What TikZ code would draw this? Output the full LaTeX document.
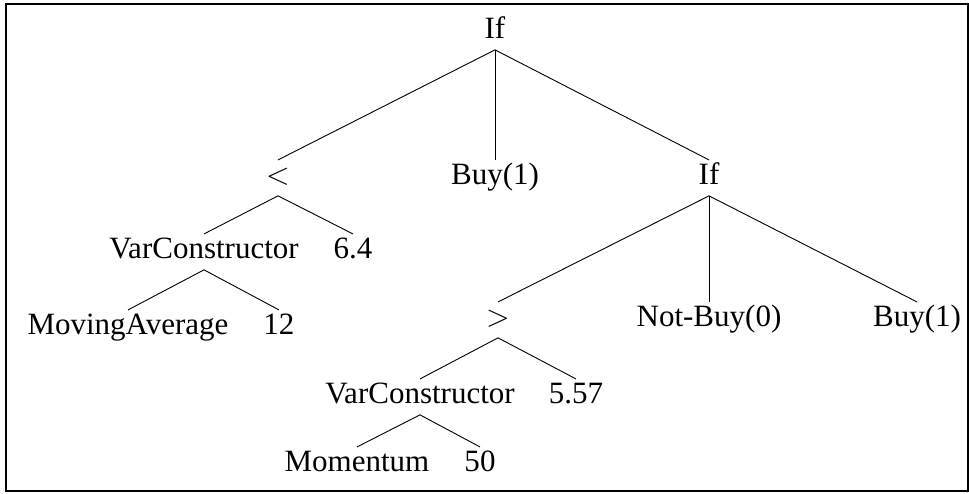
\documentclass[tikz,border=0pt]{standalone}
\usepackage{fontspec}
\setmainfont{Liberation Serif}
\begin{document}
\begin{tikzpicture}[
		x=0.387pt, y=-0.387pt,
		term/.style={
			anchor=base,
			inner sep=2pt,
			text height=0.75em,
			text depth=0.2em,
			font=\fontsize{12}{14}\selectfont
		},
		branch/.style={
			line width=0.35pt,
			black
		}
		]
		\useasboundingbox (0,0) rectangle (969,494);
		\draw[line width=0.5pt] (6,4) rectangle (968,491);
		% Nodes
		\node[term] (root) at (495,39) {If};
		\node[term] (lt) at (278,185) {$<$};
		\node[term] (buya) at (495,185) {Buy(1)};
		\node[term] (ifb) at (709,185) {If};
		\node[term] (vca) at (204,259) {VarConstructor};
		\node[term] (va) at (353,259) {6.4};
		\node[term] (mavg) at (128,335) {MovingAverage};
		\node[term] (na) at (279,335) {12};
		\node[term] (gt) at (498,327) {$>$};
		\node[term] (nbuy) at (709,327) {Not-Buy(0)};
		\node[term] (buyb) at (917,327) {Buy(1)};
		\node[term] (vcb) at (420,404) {VarConstructor};
		\node[term] (vb) at (576,404) {5.57};
		\node[term] (mom) at (357,472) {Momentum};
		\node[term] (nb) at (480,472) {50};
		% Branches
		\draw[branch] (root.south) -- (lt.north);
		\draw[branch] (root.south) -- (buya.north);
		\draw[branch] (root.south) -- (ifb.north);
		\draw[branch] (lt.south) -- (vca.north);
		\draw[branch] (lt.south) -- (va.north);
		\draw[branch] (vca.south) -- (mavg.north);
		\draw[branch] (vca.south) -- (na.north);
		\draw[branch] (ifb.south) -- (gt.north);
		\draw[branch] (ifb.south) -- (nbuy.north);
		\draw[branch] (ifb.south) -- (buyb.north);
		\draw[branch] (gt.south) -- (vcb.north);
		\draw[branch] (gt.south) -- (vb.north);
		\draw[branch] (vcb.south) -- (mom.north);
		\draw[branch] (vcb.south) -- (nb.north);
	\end{tikzpicture}
\end{document}
